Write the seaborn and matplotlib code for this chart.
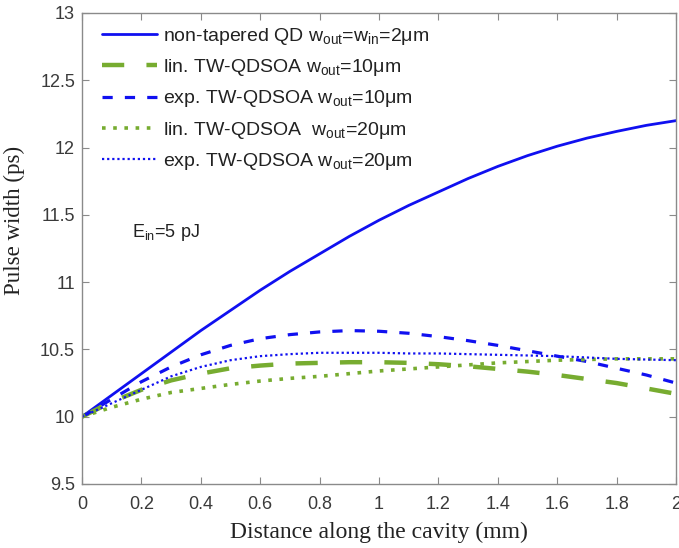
import numpy as np
import pandas as pd
import matplotlib
matplotlib.use("Agg")
import matplotlib.pyplot as plt
import seaborn as sns

# ---- data ----
distance = [0.0, 0.1, 0.2, 0.3, 0.4, 0.5, 0.6, 0.7, 0.8, 0.9, 1.0,
            1.1, 1.2, 1.3, 1.4, 1.5, 1.6, 1.7, 1.8, 1.9, 2.0]
non_tapered = [10.0, 10.16, 10.32, 10.48, 10.64, 10.79, 10.94, 11.08, 11.21, 11.34, 11.46,
               11.57, 11.67, 11.77, 11.86, 11.94, 12.01, 12.07, 12.12, 12.165, 12.20]
lin_10 = [10.0, 10.11, 10.20, 10.27, 10.32, 10.36, 10.38, 10.395, 10.40, 10.405, 10.405,
          10.40, 10.39, 10.375, 10.355, 10.335, 10.31, 10.28, 10.25, 10.21, 10.17]
exp_10 = [10.0, 10.13, 10.26, 10.37, 10.46, 10.53, 10.58, 10.61, 10.63, 10.64, 10.635,
          10.62, 10.595, 10.565, 10.53, 10.49, 10.45, 10.41, 10.36, 10.31, 10.25]
lin_20 = [10.0, 10.07, 10.13, 10.18, 10.21, 10.24, 10.265, 10.285, 10.30, 10.32, 10.34,
          10.355, 10.37, 10.385, 10.40, 10.41, 10.42, 10.425, 10.43, 10.43, 10.43]
exp_20 = [10.0, 10.10, 10.20, 10.30, 10.37, 10.42, 10.45, 10.465, 10.475, 10.475, 10.475,
          10.47, 10.47, 10.465, 10.46, 10.455, 10.45, 10.44, 10.43, 10.425, 10.42]

labels = [
    r"non-tapered QD w$_{\mathrm{out}}$=w$_{\mathrm{in}}$=2μm",
    r"lin. TW-QDSOA w$_{\mathrm{out}}$=10μm",
    r"exp. TW-QDSOA w$_{\mathrm{out}}$=10μm",
    r"lin. TW-QDSOA  w$_{\mathrm{out}}$=20μm",
    r"exp. TW-QDSOA w$_{\mathrm{out}}$=20μm",
]
x_ticks = [0, 0.2, 0.4, 0.6, 0.8, 1, 1.2, 1.4, 1.6, 1.8, 2]
x_ticklabels = ["0", "0.2", "0.4", "0.6", "0.8", "1", "1.2", "1.4", "1.6", "1.8", "2"]
y_ticks = [9.5, 10, 10.5, 11, 11.5, 12, 12.5, 13]
y_ticklabels = ["9.5", "10", "10.5", "11", "11.5", "12", "12.5", "13"]

series = [non_tapered, lin_10, exp_10, lin_20, exp_20]

blue = "#1010f0"
green = "#77ac30"
styles = [
    dict(color=blue, lw=2.0, dashes=None),
    dict(color=green, lw=3.2, dashes=(5, 5)),
    dict(color=blue, lw=2.3, dashes=(3.2, 3.8)),
    dict(color=green, lw=2.6, dashes=(1, 2.1)),
    dict(color=blue, lw=1.6, dashes=(1, 1.3)),
]

sns.set_style("white")
plt.rcParams["font.family"] = ["Liberation Sans", "DejaVu Sans"]
plt.rcParams["mathtext.fontset"] = "custom"
plt.rcParams["mathtext.rm"] = "Liberation Sans"
plt.rcParams["mathtext.it"] = "Liberation Sans:italic"

fig = plt.figure(figsize=(6.79, 5.48), dpi=100)
ax = fig.add_axes([0.1208, 0.1168, 0.8748, 0.8595])

handles = []
for vals, lab, st in zip(series, labels, styles):
    df = pd.DataFrame({"x": distance, "y": vals})
    sns.lineplot(data=df, x="x", y="y", ax=ax, color=st["color"],
                 linewidth=st["lw"], label=lab, legend=False)
    ln = ax.lines[-1]
    if st["dashes"] is not None:
        ln.set_dashes(st["dashes"])
    ln.set_dash_capstyle("butt")
    handles.append(ln)

ax.set_xlim(0, 2)
ax.set_ylim(9.5, 13)
ax.set_xticks(x_ticks)
ax.set_xticklabels(x_ticklabels)
ax.set_yticks(y_ticks)
ax.set_yticklabels(y_ticklabels)

for sp in ax.spines.values():
    sp.set_visible(True)
    sp.set_color("#8a8a8a")
    sp.set_linewidth(1.0)
ax.tick_params(axis="both", direction="in", length=5, width=0.8, color="#8a8a8a",
               labelsize=13, labelcolor="#3a3a3a", top=True, right=True,
               bottom=True, left=True)
ax.tick_params(axis="x", pad=9)
ax.tick_params(axis="y", pad=5)

ax.set_xlabel("Distance along the cavity (mm)", family="Liberation Serif",
              fontsize=17, color="#222222", va="top")
ax.set_ylabel("Pulse width (ps)", family="Liberation Serif",
              fontsize=16.5, color="#222222")
ax.xaxis.set_label_coords(0.5, -0.080)
ax.yaxis.set_label_coords(-0.096, 0.56)

leg = ax.legend(handles=handles, labels=labels, loc="upper left",
                bbox_to_anchor=(0.033, 0.972), frameon=False, fontsize=14,
                handlelength=2.85, handletextpad=0.3, labelspacing=0.52,
                borderaxespad=0.0, borderpad=0.0)
for t in leg.get_texts():
    t.set_color("#222222")

ax.text(0.168, 11.37, r"E$_{\mathrm{in}}$=5 pJ", fontsize=13, color="#222222",
        va="center", ha="left")

fig.savefig("out.png", dpi=100)
